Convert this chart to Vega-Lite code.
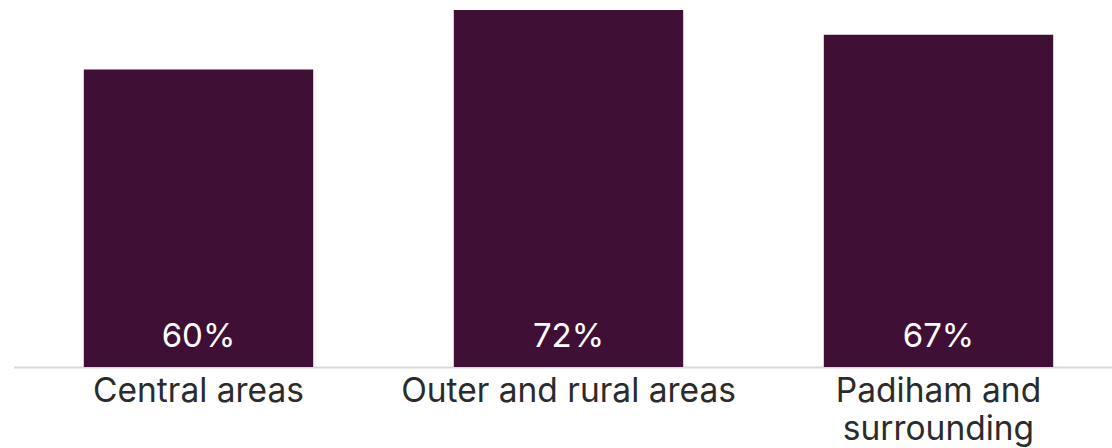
{
  "$schema": "https://vega.github.io/schema/vega-lite/v6.json",
  "width": 1110,
  "height": 357,
  "autosize": {"type": "none"},
  "padding": {"left": 13.5, "top": 10, "right": 0, "bottom": 81},
  "background": "white",
  "config": {"view": {"stroke": null}, "font": "Inter"},
  "data": {"values": [
    {"area": "Central areas", "share": 0.60},
    {"area": "Outer and rural areas", "share": 0.72},
    {"area": "Padiham and surrounding", "share": 0.67}
  ]},
  "encoding": {
    "x": {
      "field": "area", "type": "nominal", "sort": null,
      "scale": {"paddingInner": 0.38, "paddingOuter": 0.19},
      "axis": {
        "title": null, "labelAngle": 0, "ticks": false,
        "domainColor": "#d9d9d9", "domainWidth": 2,
        "labelFont": "Inter", "labelFontSize": 33.5, "labelColor": "#2b2b2b",
        "labelPadding": 8, "labelLineHeight": 38, "labelLimit": 400,
        "labelExpr": "datum.label == 'Padiham and surrounding' ? ['Padiham and', 'surrounding'] : datum.label"
      }
    }
  },
  "layer": [
    {
      "mark": {"type": "bar", "color": "#3f0f35"},
      "encoding": {
        "y": {"field": "share", "type": "quantitative", "scale": {"domain": [0, 0.72], "nice": false}, "axis": null}
      }
    },
    {
      "mark": {"type": "text", "color": "white", "font": "Inter", "fontSize": 33, "dy": -20, "baseline": "alphabetic"},
      "encoding": {
        "y": {"datum": 0, "type": "quantitative"},
        "text": {"field": "share", "type": "quantitative", "format": ".0%"}
      }
    }
  ]
}
